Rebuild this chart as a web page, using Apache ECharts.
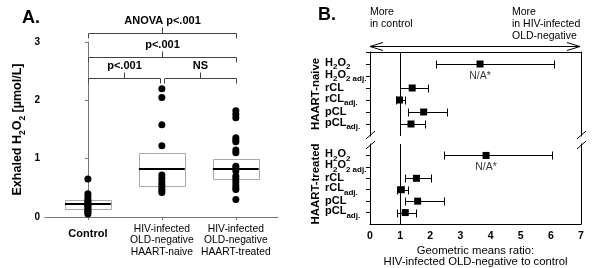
<!DOCTYPE html>
<html>
<head>
<meta charset="utf-8">
<script src="https://cdn.jsdelivr.net/npm/echarts@6/dist/echarts.min.js"></script>
<style>
html,body{margin:0;padding:0;background:#fff;}
#main{width:596px;height:268px;}
</style>
</head>
<body>
<div id="main"></div>
<script>
// ---- panel A: exhaled H2O2 by group ----
var groups = ['Control', 'HIV-infected\nOLD-negative\nHAART-naive', 'HIV-infected\nOLD-negative\nHAART-treated'];
var controlPts = [0.65, 0.40, 0.35, 0.30, 0.28, 0.25, 0.22, 0.20, 0.18, 0.15, 0.12, 0.10, 0.07, 0.05];
var naivePts = [2.20, 2.05, 1.58, 1.22, 0.72, 0.66, 0.60, 0.55, 0.50, 0.46, 0.42];
var treatedPts = [1.82, 1.76, 1.70, 1.36, 1.32, 1.29, 1.15, 1.10, 0.87, 0.83, 0.79, 0.70, 0.65, 0.60, 0.55, 0.50, 0.47, 0.30];
// [q1, median, q3]
var boxStats = [[0.14, 0.22, 0.29], [0.53, 0.82, 1.10], [0.65, 0.83, 1.00]];
// [from group, to group, level, text]
var brackets = [
    [0, 2, 3.15, 'ANOVA p<.001'],
    [0, 2, 2.74, 'p<.001'],
    [0, 0.98, 2.39, 'p<.001'],
    [1.03, 2, 2.39, 'NS']
];
var yTicksA = [0, 1, 2, 3];

// ---- panel B: geometric means ratio ----
var rowLabels = [
    '{n|H}{s|2}{n|O}{s|2}',
    '{n|H}{s|2}{n|O}{s|2 adj.}',
    '{n|rCL}',
    '{n|rCL}{s|adj.}',
    '{n|pCL}',
    '{n|pCL}{s|adj.}'
];
var naiveRatio = [3.65, null, 1.40, 0.98, 1.78, 1.36];
var naiveLow = [2.20, null, 1.00, 0.86, 1.25, 1.00];
var naiveHigh = [6.12, null, 1.93, 1.17, 2.54, 1.84];
var treatedRatio = [3.85, null, 1.54, 1.04, 1.58, 1.17];
var treatedLow = [2.45, null, 1.17, 0.89, 1.17, 0.89];
var treatedHigh = [6.04, null, 2.03, 1.25, 2.47, 1.54];
var naNote = 'N/A*';

var FONT = '"Liberation Sans", Arial, sans-serif';
var subRich = {
    n: {fontSize: 11, fontWeight: 'bold', fontFamily: FONT, color: '#000', verticalAlign: 'top'},
    s: {fontSize: 8, fontWeight: 'bold', fontFamily: FONT, color: '#000', verticalAlign: 'bottom', padding: [6, 0, 0, 0]}
};
// slot 0 = top edge, slots 1..6 = rows, slot 7 = bottom edge
var rowSlots = [''].concat(rowLabels, ['']);

var chart = echarts.init(document.getElementById('main'));

function px(v) { return Math.round(v) + 0.5; }

function boxItem(params, api) {
    var x = api.value(0), half = 0.31;
    var p1 = api.coord([x - half, api.value(3)]);
    var p2 = api.coord([x + half, api.value(1)]);
    var m = api.coord([x, api.value(2)]);
    return {type: 'group', children: [
        {type: 'rect', shape: {x: px(p1[0]), y: px(p1[1]), width: Math.round(p2[0] - p1[0]), height: Math.round(p2[1] - p1[1])},
            style: {fill: '#fff', stroke: '#aaa', lineWidth: 1}},
        {type: 'line', shape: {x1: p1[0], y1: Math.round(m[1]), x2: p2[0], y2: Math.round(m[1])},
            style: {stroke: '#000', lineWidth: 2}}
    ]};
}

function bracketItem(params, api) {
    var a = api.coord([api.value(0), api.value(2)]);
    var b = api.coord([api.value(1), api.value(2)]);
    var y = px(a[1]), x1 = px(a[0]), x2 = px(b[0]), mid = px((a[0] + b[0]) / 2);
    return {type: 'group', children: [
        {type: 'polyline', shape: {points: [[x1, y + 5], [x1, y], [x2, y], [x2, y + 5]]},
            style: {stroke: '#444', fill: null, lineWidth: 1}},
        {type: 'line', shape: {x1: mid, y1: y, x2: mid, y2: y - 6}, style: {stroke: '#444', lineWidth: 1}},
        {type: 'text', style: {x: mid, y: y - 7, text: brackets[params.dataIndex][3], textAlign: 'center',
            textVerticalAlign: 'bottom', font: 'bold 11px ' + FONT, fill: '#000'}}
    ]};
}

function errItem(params, api) {
    var a = api.coord([api.value(0), api.value(2)]);
    var b = api.coord([api.value(1), api.value(2)]);
    var y = px(a[1]), x1 = px(a[0]), x2 = px(b[0]);
    return {type: 'group', children: [
        {type: 'line', shape: {x1: x1, y1: y, x2: x2, y2: y}, style: {stroke: '#000', lineWidth: 1}},
        {type: 'line', shape: {x1: x1, y1: y - 4, x2: x1, y2: y + 4}, style: {stroke: '#000', lineWidth: 1}},
        {type: 'line', shape: {x1: x2, y1: y - 4, x2: x2, y2: y + 4}, style: {stroke: '#000', lineWidth: 1}}
    ]};
}

function errData(low, high) {
    var out = [];
    low.forEach(function (v, i) { if (v != null) out.push([v, high[i], i + 1]); });
    return out;
}
function ptData(vals) {
    var out = [];
    vals.forEach(function (v, i) { if (v != null) out.push([v, i + 1]); });
    return out;
}

function bYAxis(grid, name, firstTick) {
    return {
        type: 'category', gridIndex: grid, inverse: true, boundaryGap: false, data: rowSlots,
        name: name, nameLocation: 'middle', nameRotate: 90, nameGap: 47,
        nameTextStyle: {fontSize: 11.4, fontWeight: 'bold', fontFamily: FONT, color: '#000'},
        axisLine: {show: true, lineStyle: {color: '#000', width: 1}},
        axisTick: {show: true, length: 4, lineStyle: {color: '#000'},
            interval: function (i) { return i >= firstTick && i <= 6; }},
        axisLabel: {show: true, interval: 0, align: 'left', margin: 45, rich: subRich},
        splitLine: {show: false}
    };
}
function rightBorder(grid) {
    return {type: 'value', gridIndex: grid, position: 'right', inverse: true, min: 0, max: 7,
        axisLine: {show: true, onZero: false, lineStyle: {color: '#000'}}, axisTick: {show: false},
        axisLabel: {show: false}, splitLine: {show: false}};
}

var refLine = {
    silent: true, symbol: 'none', label: {show: false},
    lineStyle: {color: '#000', type: 'solid', width: 1},
    data: [{xAxis: 1}]
};
var dot = {color: '#000', opacity: 1};

var option = {
    animation: false,
    textStyle: {fontFamily: FONT},
    grid: [
        {left: 45, right: 318, top: 42, bottom: 51},
        {left: 370, right: 15, top: 52, height: 84},
        {left: 370, right: 15, top: 144, height: 84}
    ],
    xAxis: [
        {
            type: 'value', gridIndex: 0, min: -0.58, max: 2.57,
            axisLine: {show: true, onZero: false, lineStyle: {color: '#777'}},
            axisTick: {show: true, length: 3, customValues: [0, 1, 2], lineStyle: {color: '#777'}},
            axisLabel: {customValues: [0, 1, 2], margin: 6, lineHeight: 11.5, fontSize: 10.3, color: '#000',
                formatter: function (v) { return v === 0 ? '{c|' + groups[0] + '}' : groups[v]; },
                rich: {c: {fontSize: 11, fontWeight: 'bold', color: '#000', padding: [11, 0, 0, 0]}}},
            splitLine: {show: false}
        },
        {
            type: 'value', gridIndex: 1, min: 0, max: 7, position: 'top',
            axisLine: {show: true, onZero: false, lineStyle: {color: '#000'}},
            axisTick: {show: false}, axisLabel: {show: false}, splitLine: {show: false}
        },
        {
            type: 'value', gridIndex: 2, min: 0, max: 7, interval: 1, position: 'bottom',
            axisLine: {show: true, onZero: false, lineStyle: {color: '#000'}},
            axisTick: {show: false},
            axisLabel: {fontSize: 10.5, fontWeight: 'bold', color: '#000', margin: 7},
            splitLine: {show: false},
            name: 'Geometric means ratio:\nHIV-infected OLD-negative to control',
            nameLocation: 'middle', nameGap: 21,
            nameTextStyle: {fontSize: 11.3, color: '#000', lineHeight: 11}
        }
    ],
    yAxis: [
        {
            type: 'value', gridIndex: 0, min: 0, max: 3, interval: 1,
            axisLine: {show: true, lineStyle: {color: '#777'}},
            axisTick: {show: true, length: 3, lineStyle: {color: '#777'}},
            axisLabel: {fontSize: 10, fontWeight: 'bold', color: '#000', margin: 5,
                customValues: yTicksA},
            splitLine: {show: false},
            name: '{t|Exhaled H}{s|2}{t|O}{s|2}{t| [µmol/L]}',
            nameLocation: 'middle', nameGap: 18, nameRotate: 90,
            nameTextStyle: {rich: {
                t: {fontSize: 12.5, fontWeight: 'bold', fontFamily: FONT, color: '#000', verticalAlign: 'top'},
                s: {fontSize: 8.5, fontWeight: 'bold', fontFamily: FONT, color: '#000', verticalAlign: 'bottom', padding: [7, 0, 0, 0]}
            }}
        },
        bYAxis(1, 'HAART-naive', 0),
        rightBorder(1),
        bYAxis(2, 'HAART-treated', 1),
        rightBorder(2)
    ],
    series: [
        {type: 'custom', xAxisIndex: 0, yAxisIndex: 0, clip: false, renderItem: boxItem,
            data: boxStats.map(function (b, i) { return [i, b[0], b[1], b[2]]; })},
        {type: 'scatter', xAxisIndex: 0, yAxisIndex: 0, symbolSize: 7, itemStyle: dot,
            data: controlPts.map(function (v) { return [0, v]; })},
        {type: 'scatter', xAxisIndex: 0, yAxisIndex: 0, symbolSize: 7, itemStyle: dot,
            data: naivePts.map(function (v) { return [1, v]; })},
        {type: 'scatter', xAxisIndex: 0, yAxisIndex: 0, symbolSize: 7, itemStyle: dot,
            data: treatedPts.map(function (v) { return [2, v]; })},
        {type: 'custom', xAxisIndex: 0, yAxisIndex: 0, clip: false, renderItem: bracketItem,
            data: brackets.map(function (b) { return [b[0], b[1], b[2]]; })},

        {type: 'custom', xAxisIndex: 1, yAxisIndex: 1, renderItem: errItem, data: errData(naiveLow, naiveHigh)},
        {type: 'scatter', xAxisIndex: 1, yAxisIndex: 1, symbol: 'rect', symbolSize: 7, itemStyle: dot,
            data: ptData(naiveRatio), markLine: refLine},
        {type: 'scatter', xAxisIndex: 1, yAxisIndex: 1, symbolSize: 0,
            label: {show: true, position: 'inside', formatter: naNote, fontSize: 10.5, color: '#000'},
            data: [[naiveRatio[0], 2]]},

        {type: 'custom', xAxisIndex: 2, yAxisIndex: 3, renderItem: errItem, data: errData(treatedLow, treatedHigh)},
        {type: 'scatter', xAxisIndex: 2, yAxisIndex: 3, symbol: 'rect', symbolSize: 7, itemStyle: dot,
            data: ptData(treatedRatio), markLine: refLine},
        {type: 'scatter', xAxisIndex: 2, yAxisIndex: 3, symbolSize: 0,
            label: {show: true, position: 'inside', formatter: naNote, fontSize: 10.5, color: '#000'},
            data: [[treatedRatio[0], 2]]}
    ],
    graphic: [
        {type: 'text', left: 22, top: 9, style: {text: 'A.', font: 'bold 18px ' + FONT, fill: '#000'}},
        {type: 'text', left: 318, top: 6, style: {text: 'B.', font: 'bold 18px ' + FONT, fill: '#000'}},
        {type: 'text', left: 370, top: 6, style: {text: 'More\nin control', font: '10.5px ' + FONT, lineHeight: 12, fill: '#000'}},
        {type: 'text', left: 512, top: 6, style: {text: 'More\nin HIV-infected\nOLD-negative', font: '10.5px ' + FONT, lineHeight: 12, fill: '#000'}},
        // double arrow
        {type: 'line', shape: {x1: 370, y1: 46.5, x2: 580, y2: 46.5}, style: {stroke: '#000', lineWidth: 1}},
        {type: 'polyline', shape: {points: [[383, 42.5], [370, 46.5], [383, 50.5]]}, style: {stroke: '#000', fill: null, lineWidth: 1}},
        {type: 'polyline', shape: {points: [[567, 42.5], [580, 46.5], [567, 50.5]]}, style: {stroke: '#000', fill: null, lineWidth: 1}},
        // axis break marks
        {type: 'line', shape: {x1: 366, y1: 139, x2: 375, y2: 131}, style: {stroke: '#000', lineWidth: 1}},
        {type: 'line', shape: {x1: 366, y1: 149, x2: 375, y2: 141}, style: {stroke: '#000', lineWidth: 1}},
        {type: 'line', shape: {x1: 577, y1: 139, x2: 586, y2: 131}, style: {stroke: '#000', lineWidth: 1}},
        {type: 'line', shape: {x1: 577, y1: 149, x2: 586, y2: 141}, style: {stroke: '#000', lineWidth: 1}}
    ]
};

chart.setOption(option);
</script>
</body>
</html>
